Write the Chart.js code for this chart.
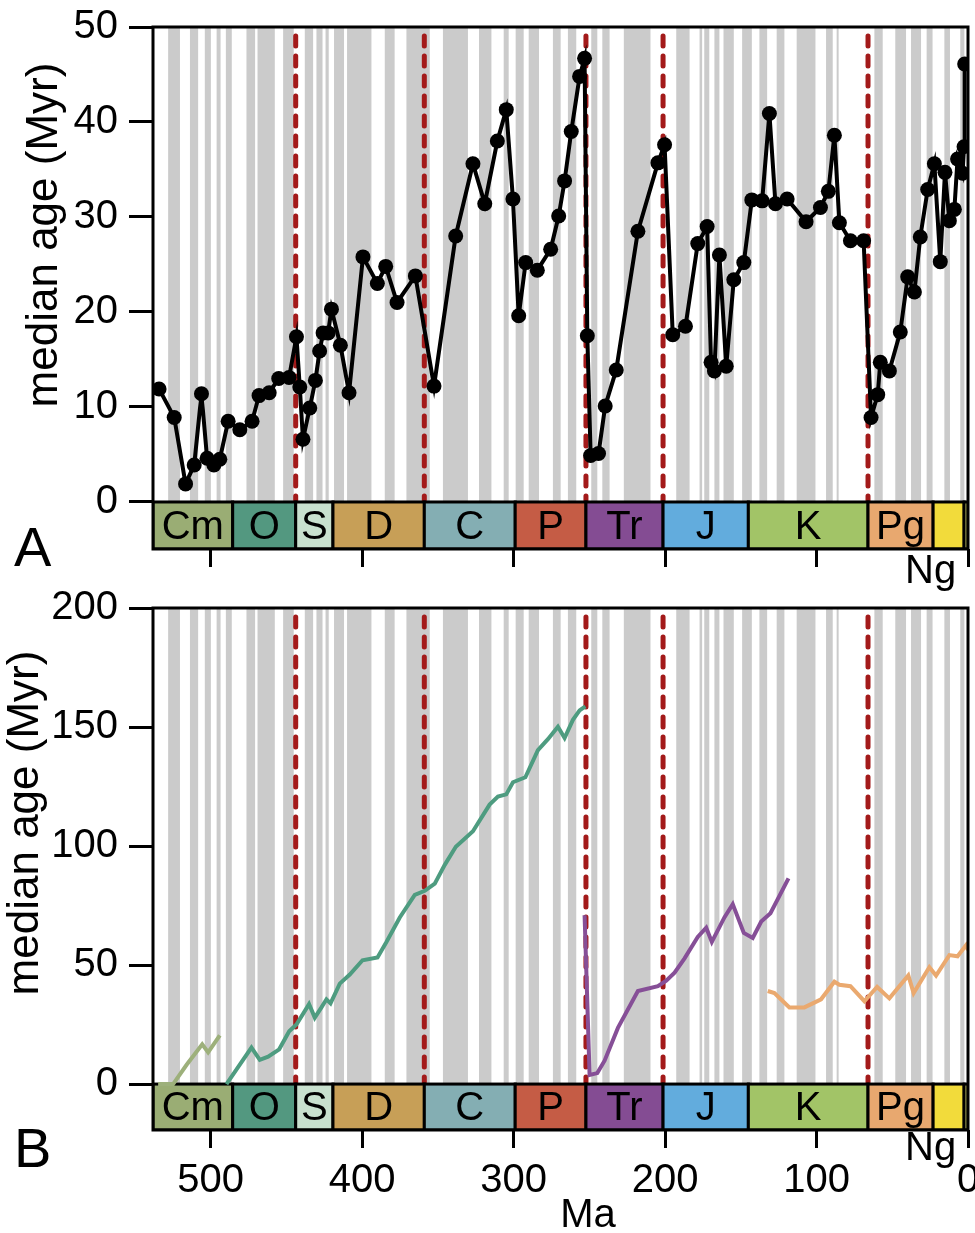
<!DOCTYPE html>
<html>
<head>
<meta charset="utf-8">
<script src="https://cdn.jsdelivr.net/npm/chart.js@4.4.1/dist/chart.umd.min.js"></script>
<style>
  html, body { margin: 0; padding: 0; background: #fff; }
  body { width: 975px; height: 1233px; position: relative; overflow: hidden; }
  .panel { position: absolute; left: 0; width: 975px; }
  #wrapA { top: 0; height: 595px; }
  #wrapB { top: 585px; height: 648px; }
</style>
</head>
<body>
<div id="wrapA" class="panel"><canvas id="chartA" width="975" height="595"></canvas></div>
<div id="wrapB" class="panel"><canvas id="chartB" width="975" height="648"></canvas></div>
<script>
// ---- data ----------------------------------------------------
const xTicks = [500, 400, 300, 200, 100, 0];
const yTicksA = [0, 10, 20, 30, 40, 50];
const yTicksB = [0, 50, 100, 150, 200];

// panel A: median age of genera per stage (Ma, Myr)
const ageA = [534, 524, 516.5, 510.8, 506, 502.3, 497.8, 493.9, 488.4, 480.7, 472.6, 468, 461.3, 455, 448.2,
  443.3, 441.1, 439, 434.5, 430.8, 428, 425.7, 422.4, 420.2, 414.3, 408.6, 399.4, 389.9, 384.4, 376.9,
  364.8, 352.5, 338.2, 326.8, 319, 310.7, 304.8, 300.4, 296.6, 292, 284.3, 275.5, 270.2, 266.3, 261.9,
  256.4, 253.1, 251.3, 249.1, 243.9, 239.5, 232.2, 217.9, 204.7, 200.3, 194.9, 186.5, 178.4, 172.2, 169.6,
  167.4, 164.1, 159.6, 154.6, 148, 142.7, 135.9, 131.1, 127.1, 119.4, 106.9, 97.4, 92.2, 88.2, 84.9,
  77.6, 68.9, 64, 59.6, 57.9, 51.9, 44.7, 39.8, 35.4, 31.5, 26.6, 22.2, 18.3, 15.2, 12.3,
  9, 6.9, 3.6, 2.6, 2.2];
const medianA = [11.9, 8.9, 1.9, 3.9, 11.4, 4.6, 3.9, 4.5, 8.5, 7.6, 8.5, 11.2, 11.5, 13.0, 13.1,
  17.4, 12.1, 6.6, 9.9, 12.8, 15.9, 17.8, 17.8, 20.3, 16.5, 11.5, 25.8, 23.0, 24.8, 21.0,
  23.8, 12.2, 28.0, 35.6, 31.4, 38.0, 41.3, 31.9, 19.6, 25.2, 24.4, 26.6, 30.1, 33.8, 39.0,
  44.8, 46.7, 17.5, 4.9, 5.1, 10.1, 13.9, 28.5, 35.7, 37.6, 17.6, 18.5, 27.2, 29.0, 14.7,
  13.8, 26.0, 14.3, 23.4, 25.2, 31.8, 31.7, 40.9, 31.4, 31.9, 29.5, 31.0, 32.7, 38.6, 29.4,
  27.5, 27.5, 8.9, 11.3, 14.7, 13.8, 17.9, 23.7, 22.1, 27.9, 32.9, 35.6, 25.3, 34.7, 29.6,
  30.8, 36.1, 34.6, 37.4, 46.1];

// panel B: cohort lines
const cmAge = [534.6, 524.7, 515.8, 505.5, 501.6, 493.9];
const cmMedian = [0, 0, 8.1, 16.7, 13.3, 20.5];
const ordAge = [489.5, 473, 467.5, 462, 454.7, 448.1, 443.3, 435, 431.2, 426.8, 423.5, 420.8, 414.7, 408.1,
  399.7, 389.8, 383.9, 375.1, 365.2, 358.6, 352, 345.4, 338.1, 326.8, 315.8, 310.3, 304.8, 300.4,
  292.2, 283.9, 277.3, 270.7, 266.3, 260.8, 256.4, 252.6];
const ordMedian = [0, 15.3, 10.2, 11.5, 14.6, 22.2, 25, 33.6, 27.9, 32.2, 35.6, 33.9, 42.2, 46,
  52, 53.2, 59.7, 70, 79.5, 81.2, 84.2, 92.1, 99.7, 106.2, 117.4, 120.8, 121.7, 126.8,
  128.9, 140.3, 144.9, 150.1, 145.4, 153, 157, 158.7];
const triAge = [253.1, 249.8, 244.7, 239.9, 231.1, 217.9, 204.7, 199.2, 193.7, 187.1, 178.4, 172.8, 169.1,
  160.8, 155.3, 148, 142.1, 136.5, 130.4, 118.5];
const triMedian = [70.9, 3.8, 4.6, 9.8, 23.6, 39.1, 41.1, 43.4, 46.8, 52.8, 61.8, 65.7, 59.7,
  70, 75.6, 63.5, 61.4, 68.3, 71.8, 86.4];
const pgAge = [132.2, 127.8, 117.9, 108, 97, 88.2, 84.9, 77.6, 68.4, 60, 51.9, 39.4, 35.9, 25.5, 21.1,
  12.3, 6.9, 1.3, 0];
const pgMedian = [39.1, 38.2, 32.2, 32.2, 35.6, 43, 41.7, 41.1, 34.8, 40.8, 36, 45.6, 38.2, 49.1, 45.6,
  54.2, 53.7, 58.3, 56.3];

// geologic periods (Ma)
const periodNames = ['Cm', 'O', 'S', 'D', 'C', 'P', 'Tr', 'J', 'K', 'Pg', 'Ng', 'Q'];
const periodOld = [541, 485.4, 443.8, 419.2, 358.9, 298.9, 252.2, 201.3, 145, 66, 23.03, 2.58];
const periodYoung = [485.4, 443.8, 419.2, 358.9, 298.9, 252.2, 201.3, 145, 66, 23.03, 2.58, 0];
const periodInBox = [true, true, true, true, true, true, true, true, true, true, false, false];
const periodColors = ['#9aad74', '#539880', '#c8e0ce', '#c79f57', '#84aeb3', '#c55c45', '#844c93',
  '#62acdd', '#a2c467', '#e8a86f', '#f2db3b', '#f9f97f'];

// mass extinctions (Ma)
const extinctions = [443.8, 358.9, 252.2, 201.3, 66];

// gray stage stripes (older edge, younger edge, Ma)
const stripeOld = [528.0, 513.6, 503.8, 496.0, 489.9, 476.3, 469.0, 452.1, 437.8, 430.1, 424.1, 418.5,
  409.9, 385.0, 370.7, 346.6, 322.8, 306.5, 298.6, 290.0, 274.0, 264.1, 248.7, 241.4, 227.2,
  192.6, 177.2, 174.1, 167.4, 161.4, 149.1, 137.7, 126.3, 113.1, 93.7, 86.7, 61.8, 48.0,
  37.6, 27.3, 15.6, 5.1];
const stripeYoung = [520.2, 508.2, 499.8, 493.4, 486.0, 470.6, 457.6, 445.1, 432.3, 426.1, 422.0, 411.9,
  393.8, 378.5, 355.3, 330.1, 314.6, 303.2, 293.3, 283.2, 268.9, 258.6, 244.7, 236.6, 209.6,
  183.8, 175.5, 170.8, 164.1, 154.6, 142.7, 132.6, 121.2, 100.7, 89.3, 85.4, 56.3, 40.9,
  31.0, 23.4, 11.9, 2.4];

const X_MAX = 538;
const FONT = '"Liberation Sans", Arial, Helvetica, sans-serif';

// ---- drawing helpers -------------------------------------------
const geoPlugin = {
  id: 'geo',
  beforeDatasetsDraw(chart) {
    const { ctx, chartArea: ca, scales: { x, y } } = chart;
    const y0 = y.getPixelForValue(0);
    ctx.save();
    ctx.beginPath();
    ctx.rect(ca.left, ca.top, ca.right - ca.left, ca.bottom - ca.top);
    ctx.clip();

    // stage stripes
    ctx.fillStyle = '#cbcbcb';
    stripeOld.forEach((a, i) => {
      const x1 = x.getPixelForValue(a);
      const x2 = x.getPixelForValue(stripeYoung[i]);
      ctx.fillRect(x1, ca.top, x2 - x1, y0 - ca.top);
    });

    // extinction lines
    ctx.strokeStyle = '#a31a1a';
    ctx.lineWidth = 5;
    ctx.lineCap = 'round';
    ctx.setLineDash([10, 10]);
    extinctions.forEach(a => {
      const px = x.getPixelForValue(a);
      ctx.beginPath();
      ctx.moveTo(px, ca.top + 9);
      ctx.lineTo(px, y0);
      ctx.stroke();
    });
    ctx.setLineDash([]);
    ctx.lineCap = 'butt';

    // period bar
    ctx.font = '40px ' + FONT;
    ctx.textAlign = 'center';
    ctx.textBaseline = 'middle';
    periodNames.forEach((n, i) => {
      const x1 = x.getPixelForValue(Math.min(periodOld[i], X_MAX));
      const x2 = x.getPixelForValue(periodYoung[i]);
      ctx.fillStyle = periodColors[i];
      ctx.fillRect(x1, y0, x2 - x1, ca.bottom - y0);
      ctx.strokeStyle = '#000';
      ctx.lineWidth = 3;
      ctx.strokeRect(x1, y0, x2 - x1, ca.bottom - y0);
      if (periodInBox[i]) {
        ctx.fillStyle = '#000';
        ctx.fillText(n, (x1 + x2) / 2, (y0 + ca.bottom) / 2 + 2);
      }
    });
    ctx.restore();
  },
  afterDatasetsDraw(chart) {
    const { ctx, chartArea: ca } = chart;
    ctx.save();
    ctx.strokeStyle = '#000';
    ctx.lineWidth = 3;
    ctx.strokeRect(ca.left, ca.top, ca.right - ca.left, ca.bottom - ca.top);
    ctx.restore();
  },
  afterDraw(chart, args, o) {
    const { ctx } = chart;
    ctx.save();
    ctx.fillStyle = '#000';
    // y title
    ctx.font = '44px ' + FONT;
    ctx.textAlign = 'center';
    ctx.textBaseline = 'middle';
    ctx.translate(o.titleX, o.titleY);
    ctx.rotate(-Math.PI / 2);
    ctx.fillText('median age (Myr)', 0, 0);
    ctx.setTransform(1, 0, 0, 1, 0, 0);
    // panel letter
    ctx.font = '56px ' + FONT;
    ctx.textAlign = 'left';
    ctx.textBaseline = 'alphabetic';
    ctx.fillText(o.letter, 14, o.letterY);
    // Ng label under its box
    ctx.font = '40px ' + FONT;
    ctx.fillText('Ng', 905, o.ngY);
    if (o.xTitle) {
      ctx.textAlign = 'center';
      ctx.fillText(o.xTitle, 588, o.xTitleY);
    }
    ctx.restore();
  }
};

function pts(ages, vals) {
  return ages.map((a, i) => ({ x: a, y: vals[i] }));
}

function noPad(s) {
  s.paddingLeft = 0; s.paddingRight = 0; s.paddingTop = 0; s.paddingBottom = 0;
}

function makeChart(id, cfg) {
  return new Chart(document.getElementById(id), {
    type: 'line',
    data: { datasets: cfg.datasets },
    plugins: [geoPlugin],
    options: {
      responsive: false,
      animation: false,
      layout: { autoPadding: false, padding: { top: cfg.top, right: 7, left: 0, bottom: 0 } },
      scales: {
        x: {
          type: 'linear', reverse: true, min: 0, max: X_MAX,
          afterBuildTicks: s => { s.ticks = xTicks.map(v => ({ value: v })); },
          afterFit: s => { s.height = cfg.xAxisH; noPad(s); },
          grid: { drawOnChartArea: false, drawTicks: true, tickLength: 18, tickWidth: 3, tickColor: '#000' },
          border: { display: false },
          ticks: { display: cfg.xLabels, color: '#000', padding: 9, maxRotation: 0, autoSkip: false,
                   font: { family: FONT, size: 40 } }
        },
        y: {
          min: cfg.yMin, max: cfg.yMax,
          afterBuildTicks: s => { s.ticks = cfg.yTicks.map(v => ({ value: v })); },
          afterFit: s => { s.width = 153; noPad(s); },
          grid: { drawOnChartArea: false, drawTicks: true, tickLength: 24, tickWidth: 3, tickColor: '#000' },
          border: { display: false },
          ticks: { color: '#000', padding: 11, font: { family: FONT, size: 40 } }
        }
      },
      plugins: {
        legend: { display: false },
        tooltip: { enabled: false },
        geo: cfg.geo
      }
    }
  });
}

makeChart('chartA', {
  top: 27, xAxisH: 46, xLabels: false,
  yMin: -4.95, yMax: 50, yTicks: yTicksA,
  geo: { letter: 'A', letterY: 566, ngY: 583, titleX: 45, titleY: 235 },
  datasets: [{
    data: pts(ageA, medianA),
    borderColor: '#000', borderWidth: 4, tension: 0,
    pointRadius: 7.5, pointBackgroundColor: '#000', pointBorderWidth: 0
  }]
});

const lineStyle = { borderWidth: 4, pointRadius: 0, tension: 0 };
makeChart('chartB', {
  top: 23, xAxisH: 103, xLabels: true,
  yMin: -19.3, yMax: 200, yTicks: yTicksB,
  geo: { letter: 'B', letterY: 582, ngY: 575, titleX: 26, titleY: 238, xTitle: 'Ma', xTitleY: 642 },
  datasets: [
    Object.assign({ data: pts(cmAge, cmMedian), borderColor: '#9db07b' }, lineStyle),
    Object.assign({ data: pts(ordAge, ordMedian), borderColor: '#4e9c80' }, lineStyle),
    Object.assign({ data: pts(triAge, triMedian), borderColor: '#864f97' }, lineStyle),
    Object.assign({ data: pts(pgAge, pgMedian), borderColor: '#eaa96f' }, lineStyle)
  ]
});
</script>
</body>
</html>
